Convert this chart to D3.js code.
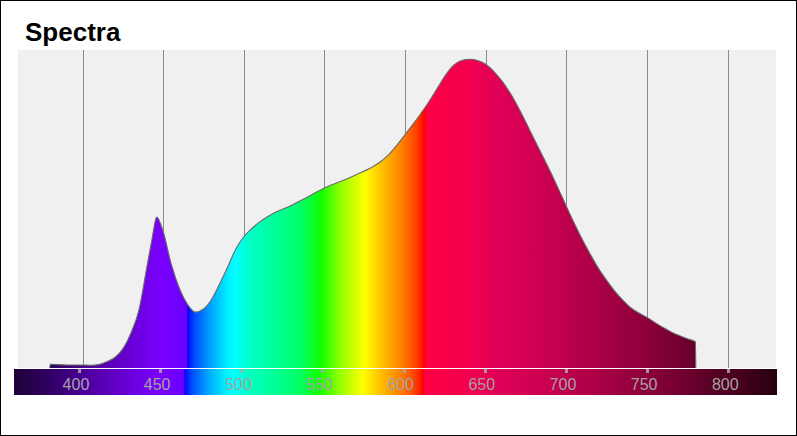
<!DOCTYPE html>
<html>
<head>
<meta charset="utf-8">
<script src="https://cdn.jsdelivr.net/npm/d3@7"></script>
<style>
  html, body { margin: 0; padding: 0; background: #fff; }
  svg { display: block; }
</style>
</head>
<body>
<svg id="chart" width="797" height="436"></svg>
<script>
const title = "Spectra";
const wavelengths = [380, 390, 400, 405, 410, 415, 420, 425, 430, 435, 440, 443, 446, 450, 455, 460, 465, 470, 475, 480, 485, 490, 495, 500, 505, 510, 515, 520, 530, 540, 550, 560, 570, 580, 585, 590, 595, 600, 605, 610, 615, 620, 625, 630, 635, 640, 645, 650, 655, 660, 665, 670, 675, 680, 685, 690, 695, 700, 705, 710, 715, 720, 725, 730, 735, 740, 745, 750, 755, 760, 765, 770, 775, 780];
const intensity = [0.012, 0.0097, 0.0097, 0.009, 0.011, 0.020, 0.034, 0.062, 0.113, 0.188, 0.330, 0.414, 0.489, 0.442, 0.337, 0.259, 0.207, 0.181, 0.191, 0.222, 0.272, 0.327, 0.385, 0.425, 0.452, 0.474, 0.491, 0.505, 0.528, 0.555, 0.583, 0.604, 0.627, 0.652, 0.669, 0.692, 0.722, 0.756, 0.790, 0.826, 0.864, 0.906, 0.948, 0.980, 0.996, 1.0, 0.996, 0.984, 0.961, 0.930, 0.892, 0.846, 0.795, 0.742, 0.690, 0.637, 0.581, 0.524, 0.468, 0.415, 0.367, 0.322, 0.284, 0.249, 0.220, 0.195, 0.178, 0.164, 0.147, 0.131, 0.117, 0.105, 0.095, 0.085];
const tickValues = [400, 450, 500, 550, 600, 650, 700, 750, 800];
const wlDomain = [360, 830];

// colour stops of the visible spectrum (wavelength, colour)
const spectrumStops = [
  [360, "#1e0036"], [380, "#2e0060"], [400, "#480090"], [420, "#5e00c0"], [440, "#7200ec"],
  [450, "#7a00ff"], [464.8, "#6800ff"], [465.2, "#0008ff"], [470, "#0050ff"], [480, "#00a8ff"],
  [490, "#00eeff"], [495, "#00ffff"], [505, "#00ffc0"], [520, "#00ff98"], [535, "#00ff68"],
  [548, "#10ff00"], [560, "#90ff00"], [575, "#ffff00"], [586, "#ffbf00"], [598, "#ff8000"],
  [607, "#ff4000"], [612.3, "#ff0000"], [613, "#ff0044"], [640, "#f2004e"], [660, "#de0058"],
  [690, "#c8004f"], [720, "#aa0046"], [750, "#8c003a"], [775, "#6c002c"], [800, "#4e0020"],
  [830, "#260010"]
];

const svg = d3.select("#chart");
const W = 797, H = 436;

// outer border
svg.append("rect").attr("x", 0.5).attr("y", 0.5).attr("width", W - 1).attr("height", H - 1)
  .attr("fill", "#fff").attr("stroke", "#000").attr("stroke-width", 1);

// title
svg.append("text").attr("x", 25).attr("y", 41).text(title)
  .attr("font-family", "Arial, 'Liberation Sans', sans-serif")
  .attr("font-weight", "bold").attr("font-size", 26).attr("fill", "#000");

// scales
const plot = { left: 18, right: 776, top: 50, bottom: 368 };
const x = d3.scaleLinear().domain(wlDomain).range([plot.left, plot.right]);
const y = d3.scaleLinear().domain([0, 1.03]).range([plot.bottom, plot.top]);
const bar = { left: 14, right: 777, top: 369, bottom: 395 };
const xb = d3.scaleLinear().domain(wlDomain).range([bar.left, bar.right]);

// gradients
const defs = svg.append("defs");
function makeGrad(id, scale) {
  const g = defs.append("linearGradient").attr("id", id)
    .attr("gradientUnits", "userSpaceOnUse")
    .attr("x1", scale(wlDomain[0])).attr("x2", scale(wlDomain[1]))
    .attr("y1", 0).attr("y2", 0);
  g.selectAll("stop").data(spectrumStops).enter().append("stop")
    .attr("offset", d => (d[0] - wlDomain[0]) / (wlDomain[1] - wlDomain[0]))
    .attr("stop-color", d => d[1]);
}
makeGrad("specPlot", x);
makeGrad("specBar", xb);

// plot background
svg.append("rect").attr("x", plot.left).attr("y", plot.top)
  .attr("width", plot.right - plot.left).attr("height", plot.bottom - plot.top)
  .attr("fill", "#f0f0f0");

// vertical grid lines
svg.append("g").selectAll("line").data(tickValues).enter().append("line")
  .attr("x1", d => Math.round(x(d)) + 0.5).attr("x2", d => Math.round(x(d)) + 0.5)
  .attr("y1", plot.top).attr("y2", plot.bottom)
  .attr("stroke", "#8a8a8a").attr("stroke-width", 1);

// spectrum
const pts = wavelengths.map((w, i) => [w, intensity[i]]);
const outline = [[wavelengths[0] - 0.3, 0]].concat(pts, [[wavelengths[wavelengths.length - 1] + 0.3, 0]]);
const area = d3.area().x(d => x(d[0])).y0(y(0)).y1(d => y(d[1])).curve(d3.curveMonotoneX);
const line = d3.line().x(d => x(d[0])).y(d => y(d[1])).curve(d3.curveMonotoneX);
svg.append("path").attr("d", area(outline)).attr("fill", "url(#specPlot)");
svg.append("path").attr("d", line(outline)).attr("fill", "none")
  .attr("stroke", "#6a6a6a").attr("stroke-width", 1.1);

// colour bar axis
svg.append("rect").attr("x", bar.left).attr("y", bar.top)
  .attr("width", bar.right - bar.left).attr("height", bar.bottom - bar.top)
  .attr("fill", "url(#specBar)");

const axis = svg.append("g");
axis.selectAll("rect.tick").data(tickValues).enter().append("rect")
  .attr("class", "tick")
  .attr("x", d => Math.round(xb(d)) - 1).attr("y", bar.top)
  .attr("width", 3).attr("height", 4)
  .attr("fill", "#a8a8a8").attr("opacity", 0.85);
axis.selectAll("text").data(tickValues).enter().append("text")
  .attr("x", d => xb(d) - 3).attr("y", 390)
  .attr("text-anchor", "middle")
  .attr("font-family", "Arial, 'Liberation Sans', sans-serif")
  .attr("font-size", 16).attr("fill", "#a3a3a3")
  .text(d => d);
</script>
</body>
</html>
